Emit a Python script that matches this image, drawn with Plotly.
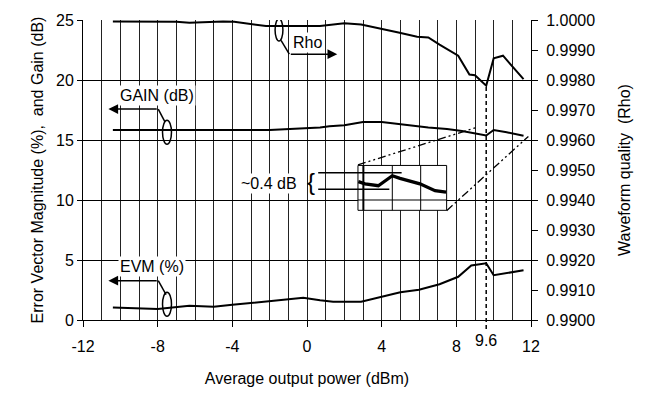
import plotly.graph_objects as go

# ---------------- data ----------------
RHO_X = [-10.4, -8.5, -7.0, -6.3, -5.5, -4.5, -3.9, -3.0, -2.2, 0.7, 2.0, 2.9, 4.0, 4.9, 5.9, 6.5, 7.1, 8.1, 8.7, 9.0, 9.6, 10.0, 10.5, 11.6]
RHO = [0.99995, 0.99995, 0.99994, 0.99991, 0.99993, 0.99995, 0.99994, 0.99986, 0.99980, 0.99980, 0.99989, 0.99985,
       0.99969, 0.99958, 0.99944, 0.99942, 0.99918, 0.99881, 0.99818, 0.99816, 0.99781, 0.99872, 0.99881, 0.99803]

GAIN_X = [-10.4, -2.0, 0.7, 1.2, 2.0, 3.0, 4.0, 5.0, 6.5, 7.5, 8.3, 9.6, 10.0, 10.7, 11.6]
GAIN = [15.83, 15.83, 16.05, 16.15, 16.23, 16.50, 16.50, 16.31, 16.05, 15.91, 15.75, 15.38, 15.83, 15.65, 15.35]

EVM_X = [-10.4, -8.0, -6.3, -5.0, -4.0, -2.5, -1.6, -0.2, 0.7, 1.4, 2.9, 4.1, 5.0, 6.0, 7.1, 8.1, 8.8, 9.6, 10.0, 11.6]
EVM = [1.05, 0.91, 1.19, 1.10, 1.27, 1.51, 1.64, 1.85, 1.64, 1.53, 1.53, 1.99, 2.31, 2.52, 2.98, 3.60, 4.54, 4.73, 3.73, 4.14]

# zoomed-in gain detail drawn in the inset
INSET_X = [2.75, 3.11, 3.82, 4.57, 4.98, 6.05, 6.86, 7.45]
INSET_GAIN = [11.53, 11.35, 11.19, 12.02, 11.80, 11.35, 10.78, 10.65]

X_TICKS = [-12, -8, -4, 0, 4, 8, 12]
X_TICK_TEXT = ["-12", "-8", "-4", "0", "4", "8", "12"]
Y_TICKS = [0, 5, 10, 15, 20, 25]
Y2_TICKS = [0.9900, 0.9910, 0.9920, 0.9930, 0.9940, 0.9950, 0.9960, 0.9970, 0.9980, 0.9990, 1.0000]
MARK_X = 9.6

FONT = "Liberation Sans, Arial, sans-serif"
BLK = "black"

fig = go.Figure()
fig.add_trace(go.Scatter(x=GAIN_X, y=GAIN, mode="lines", line=dict(color=BLK, width=2), showlegend=False))
fig.add_trace(go.Scatter(x=EVM_X, y=EVM, mode="lines", line=dict(color=BLK, width=2), showlegend=False))
fig.add_trace(go.Scatter(x=INSET_X, y=INSET_GAIN, mode="lines", line=dict(color=BLK, width=3.3), showlegend=False))
fig.add_trace(go.Scatter(x=RHO_X, y=RHO, mode="lines", line=dict(color=BLK, width=2), yaxis="y2", showlegend=False))

shapes = []
# inset box (white, covering the grid but below the traces)
shapes.append(dict(type="rect", x0=2.73, x1=7.48, y0=9.14, y1=12.88, xref="x", yref="y",
                   fillcolor="white", line=dict(color=BLK, width=1), layer="between"))
for xv, w in [(3.02, 2), (4.57, 1), (6.09, 1)]:
    shapes.append(dict(type="line", x0=xv, x1=xv, y0=9.14, y1=12.88, xref="x", yref="y",
                       line=dict(color=BLK, width=w), layer="between"))
shapes.append(dict(type="line", x0=2.73, x1=7.48, y0=10, y1=10, xref="x", yref="y",
                   line=dict(color=BLK, width=1), layer="between"))
# bracket lines
shapes.append(dict(type="line", x0=0.6, x1=5.07, y0=12.28, y1=12.28, xref="x", yref="y",
                   line=dict(color=BLK, width=1.5), layer="between"))
shapes.append(dict(type="line", x0=0.6, x1=4.41, y0=10.90, y1=10.90, xref="x", yref="y",
                   line=dict(color=BLK, width=1.5), layer="between"))
# zoom guide lines (dash-dot)
dd = "8px,3px,2px,3px,2px,3px"
shapes.append(dict(type="line", x0=2.73, y0=12.93, x1=9.09, y1=16.05, xref="x", yref="y",
                   line=dict(color=BLK, width=1.3, dash=dd)))
shapes.append(dict(type="line", x0=7.48, y0=9.11, x1=11.86, y1=15.30, xref="x", yref="y",
                   line=dict(color=BLK, width=1.3, dash=dd)))
# ellipses
for (x0, x1, y0, y1) in [(-1.71, -1.29, 23.24, 25.1), (-7.74, -7.26, 14.64, 16.65), (-7.74, -7.26, 0.31, 2.31)]:
    shapes.append(dict(type="circle", x0=x0, x1=x1, y0=y0, y1=y1, xref="x", yref="y",
                       line=dict(color=BLK, width=1.5)))
# leader lines
for (x0, y0, x1, y1) in [(-1.39, 23.31, -0.948, 22.15), (-7.97, 17.58, -7.61, 16.51), (-7.97, 3.28, -7.55, 2.12)]:
    shapes.append(dict(type="line", x0=x0, y0=y0, x1=x1, y1=y1, xref="x", yref="y",
                       line=dict(color=BLK, width=1.5)))
# dashed marker at 9.6
rho_at_mark = RHO[RHO_X.index(MARK_X)]
shapes.append(dict(type="line", x0=MARK_X, x1=MARK_X, y0=-0.03, y1=(rho_at_mark - 0.99) / 0.01,
                   xref="x", yref="paper", line=dict(color=BLK, width=1.5, dash="4px,3px")))

annotations = []
# arrows
for (tx, ty, ax_, ay_) in [(1.62, 22.15, -0.948, 22.15), (-10.64, 17.58, -7.97, 17.58), (-10.64, 3.28, -7.97, 3.28)]:
    annotations.append(dict(x=tx, y=ty, ax=ax_, ay=ay_, xref="x", yref="y", axref="x", ayref="y",
                            text="", showarrow=True, arrowhead=2, arrowsize=1.3, arrowwidth=1.5, arrowcolor=BLK))
txt = dict(font=dict(family=FONT, size=16, color=BLK), showarrow=False, bgcolor="white", borderpad=1)
annotations.append(dict(x=0.0, y=23.15, xref="x", yref="y", text="Rho", **txt))
annotations.append(dict(x=-8.05, y=18.71, xref="x", yref="y", text="GAIN (dB)", **txt))
annotations.append(dict(x=-8.28, y=4.48, xref="x", yref="y", text="EVM (%)", **txt))
annotations.append(dict(x=-2.01, y=11.4, xref="x", yref="y", text="~0.4 dB", **txt))
annotations.append(dict(x=0.24, y=11.55, xref="x", yref="y", text="{", showarrow=False,
                        font=dict(family=FONT, size=24, color=BLK)))
annotations.append(dict(x=MARK_X, y=0, xref="x", yref="paper", yshift=-20, yanchor="middle",
                        text=str(MARK_X), showarrow=False, font=dict(family=FONT, size=16, color=BLK)))

fig.update_layout(
    width=648, height=396,
    margin=dict(l=83, r=117, t=13, b=73),
    paper_bgcolor="white", plot_bgcolor="white",
    font=dict(family=FONT, size=16, color=BLK),
    shapes=shapes, annotations=annotations,
    xaxis=dict(range=[-12, 12], tickvals=X_TICKS, ticktext=X_TICK_TEXT, ticks="outside", ticklen=6, tickcolor=BLK,
               ticklabelstandoff=6,
               showline=True, linecolor=BLK, linewidth=1, zeroline=False,
               showgrid=True, gridcolor="#222", gridwidth=1,
               minor=dict(dtick=1, showgrid=True, gridcolor="#222", gridwidth=1),
               title=dict(text="Average output power (dBm)", font=dict(size=16), standoff=18)),
    yaxis=dict(range=[0, 25], tickvals=Y_TICKS, ticks="outside", ticklen=5, tickcolor=BLK,
               showline=True, linecolor=BLK, linewidth=1, zeroline=False,
               showgrid=True, gridcolor=BLK, gridwidth=1,
               title=dict(text="Error Vector Magnitude (%),\u00a0 and Gain (dB)", font=dict(size=16), standoff=8)),
    yaxis2=dict(range=[0.99, 1.0], tickvals=Y2_TICKS, tickformat=".4f", ticks="outside", ticklen=6,
                ticklabelstandoff=5,
                tickcolor=BLK, side="right", overlaying="y", showline=True, linecolor=BLK, linewidth=1,
                showgrid=False, zeroline=False,
                title=dict(text="Waveform quality\u00a0 (Rho)", font=dict(size=16), standoff=24)),
)

fig.write_html("out.html")
